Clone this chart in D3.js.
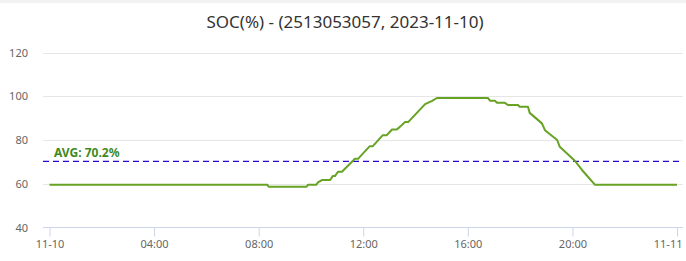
<!DOCTYPE html>
<html>
<head>
<meta charset="utf-8">
<script src="https://cdn.jsdelivr.net/npm/d3@7"></script>
<style>
  body { margin: 0; background: #fff; }
  text { font-family: "Noto Sans", "DejaVu Sans", sans-serif; }
</style>
</head>
<body>
<div id="viz"></div>
<script>
'use strict';

const width = 686;
const height = 261;

// readings of the day (time, SOC %)
const times = [
    "2023-11-10 00:00", "2023-11-10 08:20", "2023-11-10 08:23", "2023-11-10 09:50",
    "2023-11-10 09:53", "2023-11-10 10:12", "2023-11-10 10:16", "2023-11-10 10:25",
    "2023-11-10 10:44", "2023-11-10 10:50", "2023-11-10 10:55", "2023-11-10 11:02",
    "2023-11-10 11:11", "2023-11-10 11:41", "2023-11-10 11:48", "2023-11-10 12:15",
    "2023-11-10 12:22", "2023-11-10 12:45", "2023-11-10 12:54", "2023-11-10 13:06",
    "2023-11-10 13:17", "2023-11-10 13:24", "2023-11-10 13:36", "2023-11-10 13:43",
    "2023-11-10 14:22", "2023-11-10 14:38", "2023-11-10 14:49", "2023-11-10 16:46",
    "2023-11-10 16:51", "2023-11-10 17:02", "2023-11-10 17:07", "2023-11-10 17:25",
    "2023-11-10 17:32", "2023-11-10 17:55", "2023-11-10 17:59", "2023-11-10 18:18",
    "2023-11-10 18:22", "2023-11-10 18:50", "2023-11-10 18:57", "2023-11-10 19:25",
    "2023-11-10 19:31", "2023-11-10 20:06", "2023-11-10 20:22", "2023-11-10 20:29",
    "2023-11-10 20:52", "2023-11-11 00:00"
];
const soc = [
    59.5, 59.5, 58.6, 58.6,
    59.5, 59.5, 60.6, 61.7,
    61.7, 63.5, 63.5, 65.5,
    65.5, 71.4, 71.4, 77.2,
    77.2, 82.2, 82.2, 84.8,
    84.8, 86, 88.2, 88.2,
    96.4, 97.9, 99.2, 99.2,
    98, 98, 97, 97,
    96, 96, 95.2, 95.2,
    92.4, 87.6, 84.5, 80,
    76.9, 70.4, 66.3, 64.7,
    59.5, 59.5
];
const avg = 70.2;
const yTicks = [40, 60, 80, 100, 120];
const xTicks = ["2023-11-10 00:00", "2023-11-10 04:00", "2023-11-10 08:00", "2023-11-10 12:00",
    "2023-11-10 16:00", "2023-11-10 20:00", "2023-11-11 00:00"];
const title = "SOC(%) - (2513053057, 2023-11-10)";

const parseTime = d3.timeParse("%Y-%m-%d %H:%M");
const data = times.map((t, i) => ({ t: parseTime(t), v: soc[i] }));

const plotLeft = 43, plotRight = 683;

const x = d3.scaleTime()
    .domain([parseTime(xTicks[0]), parseTime(xTicks[xTicks.length - 1])])
    .range([49.5, 677]);
const y = d3.scaleLinear()
    .domain([40, 120])
    .range([227.5, 52.5]);

const svg = d3.select("#viz")
    .append("svg")
    .attr("width", width)
    .attr("height", height);

svg.append("rect")
    .attr("width", width)
    .attr("height", 3)
    .attr("fill", "#f2f2f2");

svg.append("text")
    .attr("x", width / 2 + 2)
    .attr("y", 28)
    .attr("text-anchor", "middle")
    .attr("font-size", 17)
    .attr("fill", "#333")
    .text(title);

// grid + y labels
const grid = svg.append("g");
grid.selectAll("line")
    .data(yTicks.filter(d => d > 40))
    .enter()
    .append("line")
    .attr("x1", plotLeft)
    .attr("x2", plotRight)
    .attr("y1", d => Math.round(y(d)) + 0.5)
    .attr("y2", d => Math.round(y(d)) + 0.5)
    .attr("stroke", "#e6e6e6");
grid.selectAll("text")
    .data(yTicks)
    .enter()
    .append("text")
    .attr("x", 28)
    .attr("y", d => y(d) + 4)
    .attr("text-anchor", "end")
    .attr("font-size", 11)
    .attr("fill", "#666")
    .text(d => d);

// x axis
const xAxis = d3.axisBottom(x)
    .tickValues(xTicks.map(parseTime))
    .tickSize(9)
    .tickPadding(4)
    .tickFormat(d => (d.getHours() === 0 ? d3.timeFormat("%m-%d")(d) : d3.timeFormat("%H:%M")(d)));

const gx = svg.append("g")
    .attr("transform", "translate(0," + 227.5 + ")")
    .call(xAxis);
gx.select(".domain")
    .attr("d", "M" + plotLeft + ",0H" + plotRight)
    .attr("stroke", "#ccd6eb");
gx.selectAll(".tick line").attr("stroke", "#ccd6eb");
gx.selectAll(".tick text")
    .attr("font-family", "Noto Sans")
    .attr("font-size", 11)
    .attr("fill", "#666");
// last label is pushed inside the chart, as the original does
gx.selectAll(".tick text")
    .filter((d, i, nodes) => i === nodes.length - 1)
    .attr("text-anchor", "end")
    .attr("dx", 5);

// average line
svg.append("line")
    .attr("x1", plotLeft)
    .attr("x2", plotRight)
    .attr("y1", y(avg))
    .attr("y2", y(avg))
    .attr("stroke", "#2a0ad0")
    .attr("stroke-width", 1.2)
    .attr("stroke-dasharray", "6,4");
svg.append("text")
    .attr("x", 54)
    .attr("y", y(avg) - 4)
    .attr("font-size", 12)
    .attr("font-weight", "bold")
    .attr("fill", "#3f8a1c")
    .text("AVG: " + avg + "%");

// series
const line = d3.line()
    .x(d => x(d.t))
    .y(d => y(d.v));
svg.append("path")
    .datum(data)
    .attr("fill", "none")
    .attr("stroke", "#66a224")
    .attr("stroke-width", 2)
    .attr("stroke-linejoin", "round")
    .attr("d", line);
</script>
</body>
</html>
